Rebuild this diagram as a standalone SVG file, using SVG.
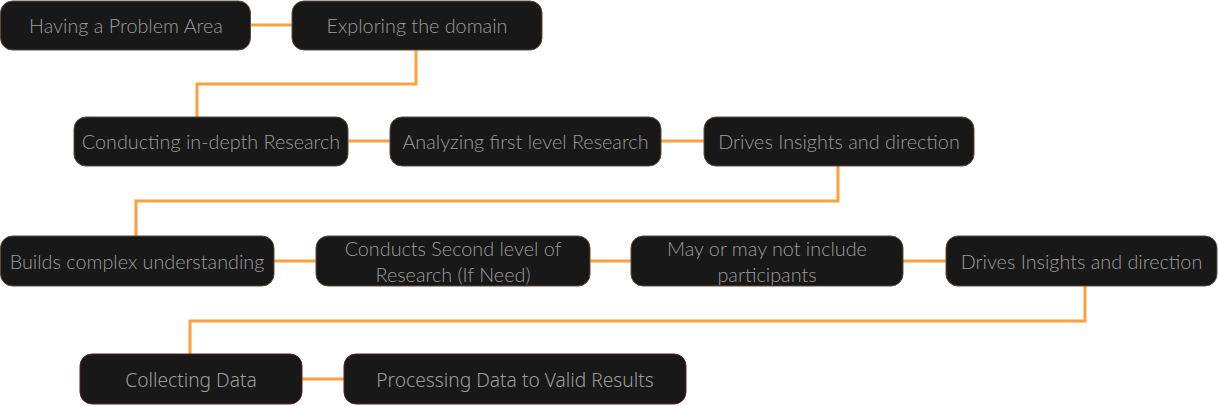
<svg xmlns="http://www.w3.org/2000/svg" width="1218" height="406" viewBox="0 0 1218 406">
<style>
.n rect{fill:#181818;stroke:#5c4c3c;stroke-width:1}
.n.r rect{stroke:#5a1c30}
.n text{font-family:Lato,"Noto Sans",sans-serif;font-size:19.8px;font-weight:300;fill:#9c9c9c;text-anchor:middle;dominant-baseline:central}
.n.r text{font-family:"Noto Sans",Lato,sans-serif;font-size:19.2px;font-weight:300}
.c path{fill:none;stroke:#f9a23f;stroke-width:3}
</style>
<rect width="1218" height="406" fill="#ffffff"/>
<g class="c">
<path d="M250 25H292"/>
<path d="M416 50V84H197V117"/>
<path d="M348 141H390"/>
<path d="M661 141H704"/>
<path d="M838 166V201H136V236"/>
<path d="M274 261H316"/>
<path d="M590 261H631"/>
<path d="M903 261H946"/>
<path d="M1085 286V321H190V354"/>
<path d="M302 379H344"/>
</g>
<g id="n1" class="n"><rect x="0.5" y="1" width="250" height="49" rx="12"/><text x="126" y="25">Having a Problem Area</text></g>
<g id="n2" class="n"><rect x="292" y="1" width="250" height="49" rx="12"/><text x="417" y="25">Exploring the domain</text></g>
<g id="n3" class="n"><rect x="74" y="117" width="274" height="49" rx="12"/><text x="211" y="141">Conducting in-depth Research</text></g>
<g id="n4" class="n"><rect x="390" y="117" width="271" height="49" rx="12"/><text x="525.5" y="141">Analyzing first level Research</text></g>
<g id="n5" class="n"><rect x="704" y="117" width="270" height="49" rx="12"/><text x="839" y="141">Drives Insights and direction</text></g>
<g id="n6" class="n"><rect x="0.5" y="236" width="273.5" height="50" rx="12"/><text x="137" y="260.5">Builds complex understanding</text></g>
<g id="n7" class="n"><rect x="316" y="236" width="274" height="50" rx="12"/><text x="453" y="247.5">Conducts Second level of</text><text x="453" y="273.5">Research (If Need)</text></g>
<g id="n8" class="n"><rect x="631" y="236" width="272" height="50" rx="12"/><text x="767" y="247.5">May or may not include</text><text x="767" y="273.5">participants</text></g>
<g id="n9" class="n"><rect x="946" y="236" width="271" height="50" rx="12"/><text x="1081.5" y="260.5">Drives Insights and direction</text></g>
<g id="n10" class="n r"><rect x="80" y="354" width="222" height="50" rx="12"/><text x="191" y="379">Collecting Data</text></g>
<g id="n11" class="n r"><rect x="344" y="354" width="342" height="50" rx="12"/><text x="515" y="379">Processing Data to Valid Results</text></g>
</svg>
